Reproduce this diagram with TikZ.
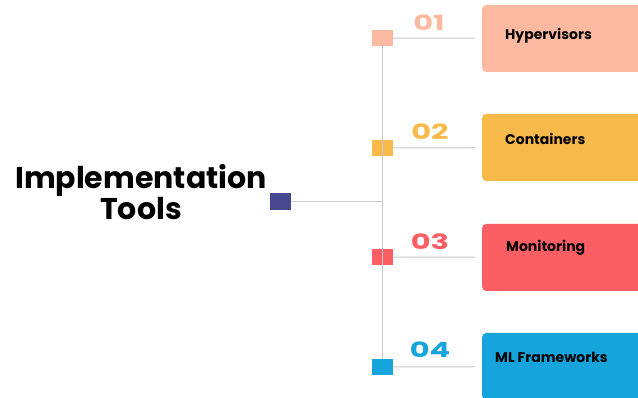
\documentclass[tikz,border=0pt]{standalone}
\usepackage{fontspec}
\setmainfont{Poppins}
\usepackage{xcolor}
\usepackage{tikz}
\usetikzlibrary{positioning}
\definecolor{toolPeach}{RGB}{253,186,160}
\definecolor{toolOrange}{RGB}{246,185,74}
\definecolor{toolRed}{RGB}{253,94,100}
\definecolor{toolBlue}{RGB}{21,164,219}
\definecolor{toolNavy}{RGB}{72,72,145}
\definecolor{toolLine}{RGB}{200,200,206}

\begin{document}
\begin{tikzpicture}[
    x=1pt, y=1pt,
    marker/.style={rectangle, inner sep=0pt, minimum width=21pt, minimum height=16pt},
    itembox/.style={rectangle, rounded corners=4pt, inner sep=0pt,
    minimum width=170pt, minimum height=67pt, anchor=west},
    itemtext/.style={anchor=west, inner sep=0pt, font=\fontsize{14}{16}\selectfont\bfseries},
    number/.style={inner sep=0pt, font=\fontsize{21}{24}\selectfont\bfseries},
    conn/.style={draw=toolLine, line width=1pt}
]
\useasboundingbox (0,0) rectangle (638,398);
\clip (0,0) rectangle (638,398);
\fill[white] (0,0) rectangle (638,398);

% title and root marker
\node[align=center, inner sep=0pt, font=\fontsize{30}{24}\selectfont\bfseries] (title) at (141,206) {Implementation\\Tools};
\node[marker, fill=toolNavy, minimum height=17pt] (root) at (280,196) {};
\coordinate (junction) at (382,196);

% markers on the spine
\node[marker, fill=toolPeach] (sq1) at (382,360) {};
\node[marker, fill=toolOrange] (sq2) at (382,250) {};
\node[marker, fill=toolRed] (sq3) at (382,141) {};
\node[marker, fill=toolBlue] (sq4) at (382,31) {};

% boxes
\node[itembox, fill=toolPeach] (box1) at (482,359.5) {};
\node[itembox, fill=toolOrange] (box2) at (482,250.5) {};
\node[itembox, fill=toolRed] (box3) at (482,140.5) {};
\node[itembox, fill=toolBlue] (box4) at (482,31.5) {};

\node[itemtext] (txt1) at (505,362) {Hypervisors};
\node[itemtext] (txt2) at (505,259) {Containers};
\node[itemtext] (txt3) at (506,150) {Monitoring};
\node[itemtext] (txt4) at (495,41) {ML Frameworks};

% numbers
\node[number, text=toolPeach] (num1) at (429,375) {\scalebox{1.45}[1]{01}};
\node[number, text=toolOrange] (num2) at (430,266) {\scalebox{1.45}[1]{02}};
\node[number, text=toolRed] (num3) at (430,156) {\scalebox{1.45}[1]{03}};
\node[number, text=toolBlue] (num4) at (430,48) {\scalebox{1.45}[1]{04}};

% connectors
\draw[conn] (sq1.south) -- (sq4.north);
\draw[conn] (root) -- (junction);
\draw[conn, shorten >=7pt] (sq1) -- (box1);
\draw[conn, shorten >=7pt] (sq2) -- (box2);
\draw[conn, shorten >=7pt] (sq3) -- (box3);
\draw[conn, shorten >=7pt] (sq4) -- (box4);
\end{tikzpicture}
\end{document}
